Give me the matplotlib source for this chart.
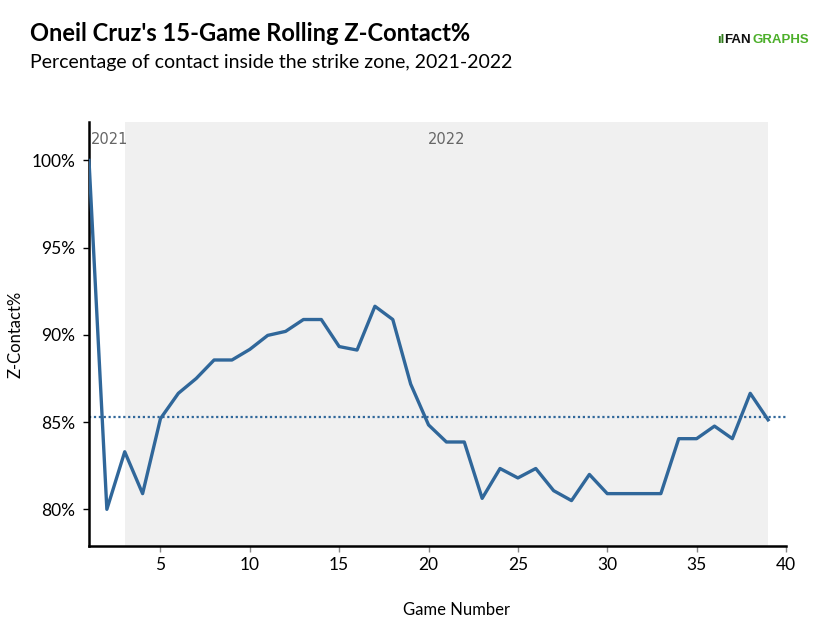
import numpy as np
import matplotlib.pyplot as plt
from matplotlib.ticker import FuncFormatter

plt.rcParams['font.family'] = ['Lato', 'DejaVu Sans']

games = np.arange(1, 40)
zcontact = [100.0, 80.0, 83.3, 80.9, 85.2, 86.65, 87.5, 88.56, 88.56, 89.17,
            89.97, 90.2, 90.88, 90.88, 89.33, 89.13, 91.64, 90.88, 87.18, 84.84,
            83.86, 83.86, 80.63, 82.34, 81.8, 82.34, 81.07, 80.5, 82.0, 80.9,
            80.9, 80.9, 80.9, 84.05, 84.05, 84.77, 84.05, 86.65, 85.13]
avg_zcontact = 85.3
season_2022 = (3, 39)
season_labels = ['2021', '2022']

line_color = '#30679a'

fig = plt.figure(figsize=(8.34, 6.29), dpi=100)
ax = fig.add_axes([0.1067, 0.132, 0.8357, 0.674])

ax.axvspan(season_2022[0], season_2022[1], color='#f0f0f0', zorder=0, lw=0)
ax.plot(games, zcontact, color=line_color, lw=2.4, zorder=3)
ax.axhline(avg_zcontact, color=line_color, lw=1.6, ls=(0, (1, 1.2)), zorder=2)

ax.set_xlim(1, 40)
ax.set_ylim(77.9, 102.2)
ax.set_xticks([5, 10, 15, 20, 25, 30, 35, 40])
ax.set_yticks([80, 85, 90, 95, 100])
ax.yaxis.set_major_formatter(FuncFormatter(lambda v, p: '%d%%' % v))

for s in ['top', 'right']:
    ax.spines[s].set_visible(False)
ax.spines['left'].set_linewidth(1.8)
ax.spines['bottom'].set_linewidth(1.8)
ax.tick_params(axis='x', length=4, width=1, color='#888888', labelsize=12.5, pad=4)
ax.tick_params(axis='y', length=4, width=1, color='black', labelsize=12.5, pad=6)

ax.set_xlabel('Game Number', fontsize=12)
ax.set_ylabel('Z-Contact%', fontsize=12)
ax.xaxis.set_label_coords(0.527, -0.132)
ax.yaxis.set_label_coords(-0.094, 0.5)

ax.text(1.1, 101.2, season_labels[0], fontsize=10.5, color='#666666',
        family='DejaVu Sans', va='center', ha='left')
ax.text(21.0, 101.2, season_labels[1], fontsize=10.5, color='#666666',
        family='DejaVu Sans', va='center', ha='center')

fig.text(0.036, 0.947, "Oneil Cruz's 15-Game Rolling Z-Contact%", fontsize=17,
         fontweight='bold', va='center')
fig.text(0.036, 0.901, 'Percentage of contact inside the strike zone, 2021-2022',
         fontsize=14, va='center')

# FanGraphs logo as text
logo_font = dict(fontsize=9.5, fontweight='bold', va='center',
                 family=['Liberation Sans', 'DejaVu Sans'])
fig.text(0.9005, 0.936, 'FAN', color='#111111', ha='right', **logo_font)
fig.text(0.9025, 0.936, 'GRAPHS', color='#4caf2a', ha='left', **logo_font)
fig.text(0.869, 0.936, 'ıl', color='#2f7a1a', ha='right', **logo_font)

fig.savefig('out.png', dpi=100)
